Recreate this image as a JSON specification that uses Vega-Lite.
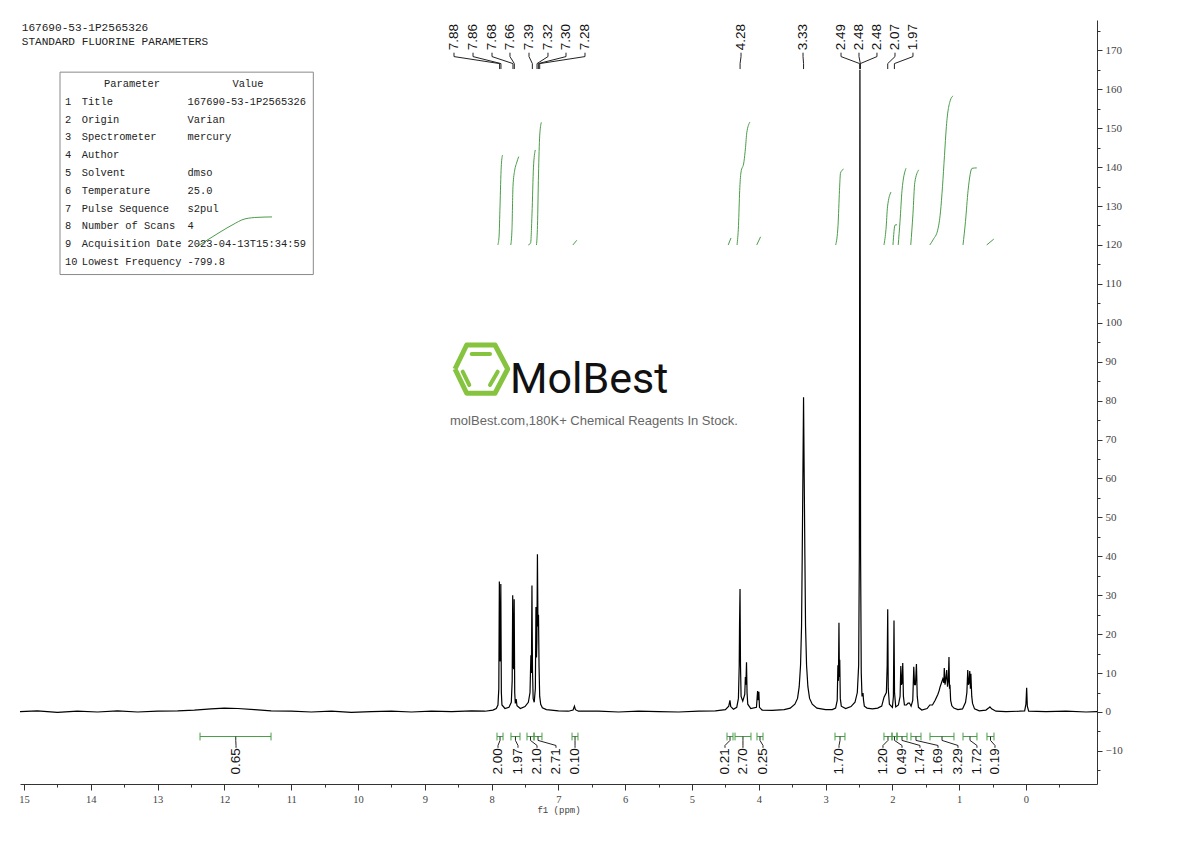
{
  "$schema": "https://vega.github.io/schema/vega-lite/v6.json",
  "width": 1077,
  "height": 764,
  "autosize": {"type": "none"},
  "padding": {"left": 20, "top": 20, "right": 93, "bottom": 57},
  "background": "white",
  "config": {"view": {"stroke": null}},
  "datasets": {
    "spectrum": [
      {"ppm": 15.06, "intensity": 0.1}, {"ppm": 14.8, "intensity": 0.3}, {"ppm": 14.5, "intensity": -0.1}, {"ppm": 14.2, "intensity": 0.2},
      {"ppm": 13.9, "intensity": 0.0}, {"ppm": 13.6, "intensity": 0.3}, {"ppm": 13.3, "intensity": 0.0}, {"ppm": 13.0, "intensity": 0.2},
      {"ppm": 12.7, "intensity": 0.3}, {"ppm": 12.45, "intensity": 0.5}, {"ppm": 12.2, "intensity": 0.8}, {"ppm": 12.0, "intensity": 1.0},
      {"ppm": 11.8, "intensity": 0.9}, {"ppm": 11.55, "intensity": 0.6}, {"ppm": 11.3, "intensity": 0.3}, {"ppm": 11.0, "intensity": 0.2},
      {"ppm": 10.7, "intensity": 0.0}, {"ppm": 10.4, "intensity": 0.2}, {"ppm": 10.1, "intensity": -0.1}, {"ppm": 9.8, "intensity": 0.1},
      {"ppm": 9.5, "intensity": 0.2}, {"ppm": 9.2, "intensity": 0.0}, {"ppm": 8.9, "intensity": 0.2}, {"ppm": 8.6, "intensity": 0.1},
      {"ppm": 8.3, "intensity": 0.3}, {"ppm": 8.1, "intensity": 0.2}, {"ppm": 7.98, "intensity": 0.5}, {"ppm": 7.93, "intensity": 0.9},
      {"ppm": 7.905, "intensity": 1.8}, {"ppm": 7.892, "intensity": 6}, {"ppm": 7.884, "intensity": 33.5}, {"ppm": 7.876, "intensity": 14},
      {"ppm": 7.870, "intensity": 13}, {"ppm": 7.862, "intensity": 32.9}, {"ppm": 7.854, "intensity": 5}, {"ppm": 7.845, "intensity": 1.8},
      {"ppm": 7.80, "intensity": 0.9}, {"ppm": 7.74, "intensity": 1.2}, {"ppm": 7.705, "intensity": 2.5}, {"ppm": 7.692, "intensity": 8},
      {"ppm": 7.684, "intensity": 30}, {"ppm": 7.676, "intensity": 12}, {"ppm": 7.670, "intensity": 11}, {"ppm": 7.662, "intensity": 29},
      {"ppm": 7.654, "intensity": 5}, {"ppm": 7.645, "intensity": 2.2}, {"ppm": 7.632, "intensity": 3.3}, {"ppm": 7.62, "intensity": 1.6},
      {"ppm": 7.57, "intensity": 0.9}, {"ppm": 7.50, "intensity": 1.4}, {"ppm": 7.45, "intensity": 2.5}, {"ppm": 7.425, "intensity": 5},
      {"ppm": 7.412, "intensity": 14.6}, {"ppm": 7.404, "intensity": 10}, {"ppm": 7.396, "intensity": 32.5}, {"ppm": 7.388, "intensity": 11},
      {"ppm": 7.378, "intensity": 3.5}, {"ppm": 7.362, "intensity": 2.5}, {"ppm": 7.345, "intensity": 6}, {"ppm": 7.336, "intensity": 27},
      {"ppm": 7.328, "intensity": 14}, {"ppm": 7.322, "intensity": 18}, {"ppm": 7.314, "intensity": 40.5}, {"ppm": 7.306, "intensity": 22},
      {"ppm": 7.298, "intensity": 25}, {"ppm": 7.290, "intensity": 12}, {"ppm": 7.28, "intensity": 4}, {"ppm": 7.265, "intensity": 2},
      {"ppm": 7.24, "intensity": 1.1}, {"ppm": 7.18, "intensity": 0.6}, {"ppm": 7.0, "intensity": 0.3}, {"ppm": 6.85, "intensity": 0.2},
      {"ppm": 6.78, "intensity": 0.5}, {"ppm": 6.76, "intensity": 1.5}, {"ppm": 6.745, "intensity": 0.6}, {"ppm": 6.7, "intensity": 0.2},
      {"ppm": 6.4, "intensity": 0.2}, {"ppm": 6.1, "intensity": 0.0}, {"ppm": 5.8, "intensity": 0.2}, {"ppm": 5.5, "intensity": 0.1},
      {"ppm": 5.2, "intensity": 0.0}, {"ppm": 4.9, "intensity": 0.2}, {"ppm": 4.65, "intensity": 0.3}, {"ppm": 4.5, "intensity": 0.6},
      {"ppm": 4.45, "intensity": 1.5}, {"ppm": 4.432, "intensity": 3.0}, {"ppm": 4.42, "intensity": 1.4}, {"ppm": 4.38, "intensity": 0.7},
      {"ppm": 4.33, "intensity": 1.2}, {"ppm": 4.305, "intensity": 3.5}, {"ppm": 4.293, "intensity": 12}, {"ppm": 4.288, "intensity": 23},
      {"ppm": 4.281, "intensity": 31.6}, {"ppm": 4.274, "intensity": 12}, {"ppm": 4.265, "intensity": 4}, {"ppm": 4.24, "intensity": 2.8},
      {"ppm": 4.21, "intensity": 4.5}, {"ppm": 4.201, "intensity": 9}, {"ppm": 4.193, "intensity": 7}, {"ppm": 4.184, "intensity": 12.8},
      {"ppm": 4.176, "intensity": 5}, {"ppm": 4.165, "intensity": 2}, {"ppm": 4.12, "intensity": 0.9}, {"ppm": 4.035, "intensity": 1.2},
      {"ppm": 4.018, "intensity": 5.4}, {"ppm": 4.008, "intensity": 3.0}, {"ppm": 3.999, "intensity": 5.2}, {"ppm": 3.99, "intensity": 1.2},
      {"ppm": 3.95, "intensity": 0.5}, {"ppm": 3.80, "intensity": 0.4}, {"ppm": 3.62, "intensity": 0.6}, {"ppm": 3.53, "intensity": 1.0},
      {"ppm": 3.46, "intensity": 2.0}, {"ppm": 3.42, "intensity": 3.5}, {"ppm": 3.395, "intensity": 6.5}, {"ppm": 3.375, "intensity": 12},
      {"ppm": 3.36, "intensity": 22}, {"ppm": 3.35, "intensity": 40}, {"ppm": 3.34, "intensity": 60}, {"ppm": 3.33, "intensity": 80.9},
      {"ppm": 3.32, "intensity": 60}, {"ppm": 3.31, "intensity": 40}, {"ppm": 3.30, "intensity": 22}, {"ppm": 3.285, "intensity": 12},
      {"ppm": 3.265, "intensity": 6.5}, {"ppm": 3.24, "intensity": 3.5}, {"ppm": 3.20, "intensity": 2.0}, {"ppm": 3.13, "intensity": 1.0},
      {"ppm": 3.0, "intensity": 0.6}, {"ppm": 2.9, "intensity": 0.6}, {"ppm": 2.85, "intensity": 1.0}, {"ppm": 2.826, "intensity": 3},
      {"ppm": 2.816, "intensity": 12}, {"ppm": 2.808, "intensity": 8}, {"ppm": 2.800, "intensity": 22.9}, {"ppm": 2.793, "intensity": 9},
      {"ppm": 2.788, "intensity": 13.4}, {"ppm": 2.780, "intensity": 3.5}, {"ppm": 2.765, "intensity": 1.5}, {"ppm": 2.70, "intensity": 0.9},
      {"ppm": 2.62, "intensity": 1.4}, {"ppm": 2.56, "intensity": 2.5}, {"ppm": 2.525, "intensity": 5}, {"ppm": 2.505, "intensity": 12},
      {"ppm": 2.495, "intensity": 40}, {"ppm": 2.486, "intensity": 165}, {"ppm": 2.476, "intensity": 40}, {"ppm": 2.466, "intensity": 10},
      {"ppm": 2.455, "intensity": 4}, {"ppm": 2.44, "intensity": 4.9}, {"ppm": 2.432, "intensity": 3}, {"ppm": 2.42, "intensity": 1.5},
      {"ppm": 2.38, "intensity": 1.0}, {"ppm": 2.30, "intensity": 0.8}, {"ppm": 2.22, "intensity": 1.0}, {"ppm": 2.16, "intensity": 1.5},
      {"ppm": 2.125, "intensity": 3.8}, {"ppm": 2.09, "intensity": 5}, {"ppm": 2.078, "intensity": 12}, {"ppm": 2.070, "intensity": 26.4},
      {"ppm": 2.062, "intensity": 6}, {"ppm": 2.045, "intensity": 2}, {"ppm": 2.0, "intensity": 1.2}, {"ppm": 1.985, "intensity": 4},
      {"ppm": 1.976, "intensity": 23.5}, {"ppm": 1.968, "intensity": 5}, {"ppm": 1.95, "intensity": 1.3}, {"ppm": 1.91, "intensity": 1.8},
      {"ppm": 1.885, "intensity": 4}, {"ppm": 1.874, "intensity": 11.8}, {"ppm": 1.865, "intensity": 7}, {"ppm": 1.855, "intensity": 7.5},
      {"ppm": 1.845, "intensity": 12.6}, {"ppm": 1.835, "intensity": 4}, {"ppm": 1.82, "intensity": 1.8}, {"ppm": 1.79, "intensity": 1.8},
      {"ppm": 1.765, "intensity": 2.3}, {"ppm": 1.745, "intensity": 2.3}, {"ppm": 1.72, "intensity": 1.5}, {"ppm": 1.695, "intensity": 3},
      {"ppm": 1.680, "intensity": 11.6}, {"ppm": 1.668, "intensity": 7}, {"ppm": 1.655, "intensity": 7}, {"ppm": 1.640, "intensity": 12.3},
      {"ppm": 1.628, "intensity": 4}, {"ppm": 1.61, "intensity": 1.2}, {"ppm": 1.56, "intensity": 0.5}, {"ppm": 1.48, "intensity": 0.9},
      {"ppm": 1.44, "intensity": 1.8}, {"ppm": 1.40, "intensity": 1.8}, {"ppm": 1.36, "intensity": 3}, {"ppm": 1.32, "intensity": 4.5},
      {"ppm": 1.30, "intensity": 5.5}, {"ppm": 1.287, "intensity": 6.4}, {"ppm": 1.265, "intensity": 7.5}, {"ppm": 1.245, "intensity": 8.5},
      {"ppm": 1.23, "intensity": 7.5}, {"ppm": 1.223, "intensity": 11.3}, {"ppm": 1.212, "intensity": 7}, {"ppm": 1.200, "intensity": 8.5},
      {"ppm": 1.187, "intensity": 10.8}, {"ppm": 1.175, "intensity": 6.5}, {"ppm": 1.163, "intensity": 8}, {"ppm": 1.153, "intensity": 14.1},
      {"ppm": 1.145, "intensity": 6}, {"ppm": 1.138, "intensity": 7}, {"ppm": 1.128, "intensity": 3}, {"ppm": 1.11, "intensity": 1.6},
      {"ppm": 1.08, "intensity": 1.0}, {"ppm": 1.02, "intensity": 0.6}, {"ppm": 0.95, "intensity": 0.8}, {"ppm": 0.905, "intensity": 2.5},
      {"ppm": 0.885, "intensity": 5}, {"ppm": 0.872, "intensity": 10.8}, {"ppm": 0.862, "intensity": 7}, {"ppm": 0.852, "intensity": 7.5},
      {"ppm": 0.842, "intensity": 10.5}, {"ppm": 0.832, "intensity": 6}, {"ppm": 0.825, "intensity": 9.8}, {"ppm": 0.812, "intensity": 4},
      {"ppm": 0.80, "intensity": 2.2}, {"ppm": 0.77, "intensity": 0.8}, {"ppm": 0.70, "intensity": 0.3}, {"ppm": 0.6, "intensity": 0.5},
      {"ppm": 0.56, "intensity": 1.0}, {"ppm": 0.54, "intensity": 1.3}, {"ppm": 0.515, "intensity": 0.8}, {"ppm": 0.45, "intensity": 0.2},
      {"ppm": 0.3, "intensity": 0.1}, {"ppm": 0.1, "intensity": 0.2}, {"ppm": 0.02, "intensity": 0.3}, {"ppm": 0.001, "intensity": 2},
      {"ppm": -0.01, "intensity": 6.2}, {"ppm": -0.02, "intensity": 1.5}, {"ppm": -0.04, "intensity": 0.2}, {"ppm": -0.3, "intensity": 0.1},
      {"ppm": -0.6, "intensity": 0.2}, {"ppm": -0.9, "intensity": 0.0}, {"ppm": -1.063, "intensity": 0.1}
    ],
    "integrals": [
      {"id": "i0", "ppm": 12.395, "value": 119.8}, {"id": "i0", "ppm": 12.29, "value": 120.9}, {"id": "i0", "ppm": 12.066, "value": 123.3}, {"id": "i0", "ppm": 11.886, "value": 125.1}, {"id": "i0", "ppm": 11.692, "value": 126.7}, {"id": "i0", "ppm": 11.497, "value": 127.1}, {"id": "i0", "ppm": 11.287, "value": 127.2},
      {"id": "i1", "ppm": 7.907, "value": 120}, {"id": "i1", "ppm": 7.889, "value": 122}, {"id": "i1", "ppm": 7.874, "value": 130}, {"id": "i1", "ppm": 7.856, "value": 140}, {"id": "i1", "ppm": 7.837, "value": 143.1},
      {"id": "i2", "ppm": 7.713, "value": 120}, {"id": "i2", "ppm": 7.695, "value": 124}, {"id": "i2", "ppm": 7.68, "value": 135}, {"id": "i2", "ppm": 7.653, "value": 139.3}, {"id": "i2", "ppm": 7.627, "value": 141}, {"id": "i2", "ppm": 7.594, "value": 142.7},
      {"id": "i3", "ppm": 7.452, "value": 120}, {"id": "i3", "ppm": 7.416, "value": 120.5}, {"id": "i3", "ppm": 7.395, "value": 128}, {"id": "i3", "ppm": 7.373, "value": 140}, {"id": "i3", "ppm": 7.346, "value": 144.4},
      {"id": "i4", "ppm": 7.328, "value": 120}, {"id": "i4", "ppm": 7.313, "value": 125}, {"id": "i4", "ppm": 7.298, "value": 138}, {"id": "i4", "ppm": 7.28, "value": 148}, {"id": "i4", "ppm": 7.256, "value": 151.5},
      {"id": "i5", "ppm": 6.783, "value": 120}, {"id": "i5", "ppm": 6.725, "value": 121.2},
      {"id": "i6", "ppm": 4.458, "value": 120}, {"id": "i6", "ppm": 4.416, "value": 121.8},
      {"id": "i7", "ppm": 4.326, "value": 120}, {"id": "i7", "ppm": 4.304, "value": 125}, {"id": "i7", "ppm": 4.286, "value": 134}, {"id": "i7", "ppm": 4.268, "value": 138.5}, {"id": "i7", "ppm": 4.222, "value": 141.4}, {"id": "i7", "ppm": 4.199, "value": 145}, {"id": "i7", "ppm": 4.18, "value": 148.8}, {"id": "i7", "ppm": 4.132, "value": 151.6},
      {"id": "i8", "ppm": 4.031, "value": 120}, {"id": "i8", "ppm": 3.973, "value": 122.1},
      {"id": "i9", "ppm": 2.849, "value": 120}, {"id": "i9", "ppm": 2.814, "value": 125}, {"id": "i9", "ppm": 2.792, "value": 134}, {"id": "i9", "ppm": 2.777, "value": 138.5}, {"id": "i9", "ppm": 2.731, "value": 139.5},
      {"id": "i10", "ppm": 2.126, "value": 120}, {"id": "i10", "ppm": 2.096, "value": 124}, {"id": "i10", "ppm": 2.073, "value": 129.8}, {"id": "i10", "ppm": 2.021, "value": 133.6},
      {"id": "i11", "ppm": 1.991, "value": 120}, {"id": "i11", "ppm": 1.961, "value": 125.1}, {"id": "i11", "ppm": 1.931, "value": 125.2},
      {"id": "i12", "ppm": 1.913, "value": 120}, {"id": "i12", "ppm": 1.886, "value": 126}, {"id": "i12", "ppm": 1.856, "value": 134}, {"id": "i12", "ppm": 1.796, "value": 139.7},
      {"id": "i13", "ppm": 1.725, "value": 120}, {"id": "i13", "ppm": 1.692, "value": 128}, {"id": "i13", "ppm": 1.665, "value": 136}, {"id": "i13", "ppm": 1.606, "value": 139.3},
      {"id": "i14", "ppm": 1.44, "value": 120}, {"id": "i14", "ppm": 1.385, "value": 121.5}, {"id": "i14", "ppm": 1.322, "value": 123.8}, {"id": "i14", "ppm": 1.28, "value": 128.5}, {"id": "i14", "ppm": 1.25, "value": 135}, {"id": "i14", "ppm": 1.22, "value": 143}, {"id": "i14", "ppm": 1.192, "value": 150.4}, {"id": "i14", "ppm": 1.132, "value": 157.2}, {"id": "i14", "ppm": 1.091, "value": 158.3},
      {"id": "i15", "ppm": 0.943, "value": 120}, {"id": "i15", "ppm": 0.906, "value": 126}, {"id": "i15", "ppm": 0.867, "value": 134}, {"id": "i15", "ppm": 0.807, "value": 139.7}, {"id": "i15", "ppm": 0.737, "value": 139.8},
      {"id": "i16", "ppm": 0.588, "value": 120}, {"id": "i16", "ppm": 0.539, "value": 120.7}, {"id": "i16", "ppm": 0.482, "value": 121.5}
    ],
    "peaks": [
      {"label": "7.88", "labelPos": 8.563, "peak": 7.88}, {"label": "7.86", "labelPos": 8.278, "peak": 7.86},
      {"label": "7.68", "labelPos": 7.994, "peak": 7.68}, {"label": "7.66", "labelPos": 7.725, "peak": 7.66},
      {"label": "7.39", "labelPos": 7.44, "peak": 7.39}, {"label": "7.32", "labelPos": 7.156, "peak": 7.32},
      {"label": "7.30", "labelPos": 6.886, "peak": 7.30}, {"label": "7.28", "labelPos": 6.602, "peak": 7.28},
      {"label": "4.28", "labelPos": 4.266, "peak": 4.28}, {"label": "3.33", "labelPos": 3.338, "peak": 3.33},
      {"label": "2.49", "labelPos": 2.769, "peak": 2.49}, {"label": "2.48", "labelPos": 2.5, "peak": 2.48},
      {"label": "2.48", "labelPos": 2.231, "peak": 2.48}, {"label": "2.07", "labelPos": 1.961, "peak": 2.07},
      {"label": "1.97", "labelPos": 1.692, "peak": 1.97}
    ],
    "bars": [
      {"label": "0.65", "from": 12.365, "to": 11.302, "center": 11.83, "labelPos": 11.826},
      {"label": "2.00", "from": 7.919, "to": 7.829, "center": 7.874, "labelPos": 7.904},
      {"label": "1.97", "from": 7.71, "to": 7.575, "center": 7.643, "labelPos": 7.605},
      {"label": "2.10", "from": 7.47, "to": 7.365, "center": 7.418, "labelPos": 7.32},
      {"label": "2.71", "from": 7.365, "to": 7.246, "center": 7.305, "labelPos": 7.036},
      {"label": "0.10", "from": 6.796, "to": 6.707, "center": 6.751, "labelPos": 6.751},
      {"label": "0.21", "from": 4.476, "to": 4.386, "center": 4.431, "labelPos": 4.506},
      {"label": "2.70", "from": 4.356, "to": 4.117, "center": 4.237, "labelPos": 4.237},
      {"label": "0.25", "from": 4.027, "to": 3.937, "center": 3.982, "labelPos": 3.937},
      {"label": "1.70", "from": 2.859, "to": 2.71, "center": 2.784, "labelPos": 2.799},
      {"label": "1.20", "from": 2.126, "to": 2.006, "center": 2.066, "labelPos": 2.141},
      {"label": "0.49", "from": 2.006, "to": 1.931, "center": 1.969, "labelPos": 1.856},
      {"label": "1.74", "from": 1.931, "to": 1.781, "center": 1.856, "labelPos": 1.587},
      {"label": "1.69", "from": 1.722, "to": 1.572, "center": 1.647, "labelPos": 1.317},
      {"label": "3.29", "from": 1.437, "to": 1.078, "center": 1.257, "labelPos": 1.018},
      {"label": "1.72", "from": 0.943, "to": 0.734, "center": 0.838, "labelPos": 0.734},
      {"label": "0.19", "from": 0.584, "to": 0.479, "center": 0.531, "labelPos": 0.464}
    ],
    "table": [
      {"row": 1, "param": "Title", "val": "167690-53-1P2565326"},
      {"row": 2, "param": "Origin", "val": "Varian"},
      {"row": 3, "param": "Spectrometer", "val": "mercury"},
      {"row": 4, "param": "Author", "val": ""},
      {"row": 5, "param": "Solvent", "val": "dmso"},
      {"row": 6, "param": "Temperature", "val": "25.0"},
      {"row": 7, "param": "Pulse Sequence", "val": "s2pul"},
      {"row": 8, "param": "Number of Scans", "val": "4"},
      {"row": 9, "param": "Acquisition Date", "val": "2023-04-13T15:34:59"},
      {"row": 10, "param": "Lowest Frequency", "val": "-799.8"}
    ],
    "tableHeader": [{"row": 0, "param": "Parameter", "val": "Value"}],
    "logo": [
      {"k": 0, "ppm": 8.548, "value": 88.13}, {"k": 1, "ppm": 8.373, "value": 94.3}, {"k": 2, "ppm": 7.949, "value": 94.3},
      {"k": 3, "ppm": 7.759, "value": 88.13}, {"k": 4, "ppm": 7.949, "value": 81.89}, {"k": 5, "ppm": 8.373, "value": 81.89},
      {"k": 6, "ppm": 8.548, "value": 88.13}
    ],
    "logoBars": [
      {"bar": "a", "ppm": 8.298, "value": 91.98}, {"bar": "a", "ppm": 8.024, "value": 91.98},
      {"bar": "b", "ppm": 8.433, "value": 87.44}, {"bar": "b", "ppm": 8.334, "value": 84.02},
      {"bar": "c", "ppm": 8.024, "value": 84.02}, {"bar": "c", "ppm": 7.909, "value": 87.44}
    ],
    "one": [{}]
  },
  "layer": [
    {
      "resolve": {"axis": {"x": "independent", "y": "independent"}},
      "layer": [
        {
          "data": {"name": "one"},
          "mark": {"type": "rect", "fill": "white", "stroke": "#8a8a8a", "strokeWidth": 1},
          "encoding": {
            "x": {"datum": 14.461, "type": "quantitative", "axis": null},
            "x2": {"datum": 10.669},
            "y": {"datum": 164.4, "type": "quantitative", "axis": null},
            "y2": {"datum": 112.4}
          }
        },
        {
          "data": {"name": "one"},
          "mark": {"type": "text", "text": "167690-53-1P2565326", "align": "left", "baseline": "middle", "font": "Liberation Mono", "fontSize": 11.1, "color": "#222"},
          "encoding": {
            "x": {"datum": 15.034, "type": "quantitative", "axis": null},
            "y": {"datum": 175.8, "type": "quantitative", "axis": null}
          }
        },
        {
          "data": {"name": "one"},
          "mark": {"type": "text", "text": "STANDARD FLUORINE PARAMETERS", "align": "left", "baseline": "middle", "font": "Liberation Mono", "fontSize": 11.1, "color": "#222"},
          "encoding": {
            "x": {"datum": 15.034, "type": "quantitative", "axis": null},
            "y": {"datum": 172.1, "type": "quantitative", "axis": null}
          }
        },
        {
          "data": {"name": "logo"},
          "mark": {"type": "line", "color": "#86c440", "strokeWidth": 5, "strokeJoin": "round"},
          "encoding": {
            "x": {"field": "ppm", "type": "quantitative", "axis": null},
            "y": {"field": "value", "type": "quantitative", "axis": null},
            "order": {"field": "k"}
          }
        },
        {
          "data": {"name": "logoBars"},
          "mark": {"type": "line", "color": "#86c440", "strokeWidth": 4, "strokeCap": "round"},
          "encoding": {
            "x": {"field": "ppm", "type": "quantitative", "axis": null},
            "y": {"field": "value", "type": "quantitative", "axis": null},
            "detail": {"field": "bar"}
          }
        },
        {
          "data": {"name": "one"},
          "mark": {"type": "text", "text": "MolBest", "align": "left", "baseline": "alphabetic", "font": "Roboto", "fontSize": 43, "color": "#111"},
          "encoding": {
            "x": {"datum": 7.725, "type": "quantitative", "axis": null},
            "y": {"datum": 81.9, "type": "quantitative", "axis": null}
          }
        },
        {
          "data": {"name": "one"},
          "mark": {"type": "text", "text": "molBest.com,180K+ Chemical Reagents In Stock.", "align": "center", "baseline": "middle", "font": "Liberation Sans", "fontSize": 13, "color": "#666"},
          "encoding": {
            "x": {"datum": 6.467, "type": "quantitative", "axis": null},
            "y": {"datum": 74.8, "type": "quantitative", "axis": null}
          }
        },
        {
          "data": {"name": "spectrum"},
          "mark": {"type": "line", "color": "#000", "strokeWidth": 1.2},
          "encoding": {
            "x": {
              "field": "ppm", "type": "quantitative",
              "scale": {"domain": [-1.063, 15.06], "reverse": true, "nice": false, "zero": false},
              "axis": {
                "orient": "bottom",
                "values": [0, 1, 2, 3, 4, 5, 6, 7, 8, 9, 10, 11, 12, 13, 14, 15],
                "tickSize": 6,
                "grid": false,
                "domainColor": "#333", "tickColor": "#333", "domainWidth": 1, "tickWidth": 1,
                "labelFont": "Liberation Serif", "labelFontSize": 10.5, "labelColor": "#444", "labelPadding": 4,
                "labelFlush": false, "labelOverlap": false,
                "title": "f1 (ppm)", "titleFont": "Liberation Mono", "titleFontSize": 9, "titleFontWeight": "normal", "titleColor": "#444", "titlePadding": 1
              }
            },
            "y": {
              "field": "intensity", "type": "quantitative",
              "scale": {"domain": [-18.5, 177.8], "nice": false, "zero": false},
              "axis": {
                "orient": "right",
                "values": [-10, 0, 10, 20, 30, 40, 50, 60, 70, 80, 90, 100, 110, 120, 130, 140, 150, 160, 170],
                "tickSize": 5,
                "grid": false, "title": null,
                "domainColor": "#333", "tickColor": "#333", "domainWidth": 1, "tickWidth": 1,
                "labelFont": "Liberation Serif", "labelFontSize": 11, "labelColor": "#444", "labelPadding": 3,
                "labelOverlap": false, "labelFlush": false
              }
            }
          }
        },
        {
          "data": {"name": "integrals"},
          "mark": {"type": "line", "color": "#4a9d4a", "strokeWidth": 1, "interpolate": "monotone"},
          "encoding": {
            "x": {
              "field": "ppm", "type": "quantitative",
              "axis": {
                "orient": "bottom",
                "values": [-0.5, 0.5, 1.5, 2.5, 3.5, 4.5, 5.5, 6.5, 7.5, 8.5, 9.5, 10.5, 11.5, 12.5, 13.5, 14.5],
                "tickSize": 3, "tickColor": "#333", "tickWidth": 1,
                "labels": false, "domain": false, "grid": false, "title": null
              }
            },
            "y": {
              "field": "value", "type": "quantitative",
              "axis": {
                "orient": "right",
                "values": [-15, -5, 5, 15, 25, 35, 45, 55, 65, 75, 85, 95, 105, 115, 125, 135, 145, 155, 165, 175],
                "tickSize": 3, "tickColor": "#333", "tickWidth": 1,
                "labels": false, "domain": false, "grid": false, "title": null
              }
            },
            "detail": {"field": "id"}
          }
        },
        {
          "data": {"name": "bars"},
          "mark": {"type": "rule", "color": "#4a9d4a", "strokeWidth": 1},
          "encoding": {
            "x": {"field": "from", "type": "quantitative", "axis": null},
            "x2": {"field": "to"},
            "y": {"datum": -6.3, "type": "quantitative", "axis": null}
          }
        },
        {
          "data": {"name": "bars"},
          "mark": {"type": "rule", "color": "#4a9d4a", "strokeWidth": 1},
          "encoding": {
            "x": {"field": "from", "type": "quantitative", "axis": null},
            "y": {"datum": -5.3, "type": "quantitative", "axis": null},
            "y2": {"datum": -7.3}
          }
        },
        {
          "data": {"name": "bars"},
          "mark": {"type": "rule", "color": "#4a9d4a", "strokeWidth": 1},
          "encoding": {
            "x": {"field": "to", "type": "quantitative", "axis": null},
            "y": {"datum": -5.3, "type": "quantitative", "axis": null},
            "y2": {"datum": -7.3}
          }
        },
        {
          "data": {"name": "bars"},
          "mark": {"type": "rule", "color": "#222", "strokeWidth": 1},
          "encoding": {
            "x": {"field": "center", "type": "quantitative", "axis": null},
            "y": {"datum": -6.3, "type": "quantitative", "axis": null},
            "y2": {"datum": -7.3}
          }
        },
        {
          "data": {"name": "bars"},
          "mark": {"type": "rule", "color": "#222", "strokeWidth": 1},
          "encoding": {
            "x": {"field": "center", "type": "quantitative", "axis": null},
            "x2": {"field": "labelPos"},
            "y": {"datum": -7.3, "type": "quantitative", "axis": null},
            "y2": {"datum": -8.6}
          }
        },
        {
          "data": {"name": "bars"},
          "mark": {"type": "rule", "color": "#222", "strokeWidth": 1},
          "encoding": {
            "x": {"field": "labelPos", "type": "quantitative", "axis": null},
            "y": {"datum": -8.6, "type": "quantitative", "axis": null},
            "y2": {"datum": -9.2}
          }
        },
        {
          "data": {"name": "bars"},
          "mark": {"type": "text", "angle": 270, "align": "right", "baseline": "middle", "font": "Liberation Sans", "fontSize": 13.5, "color": "#111"},
          "encoding": {
            "x": {"field": "labelPos", "type": "quantitative", "axis": null},
            "y": {"datum": -9.3, "type": "quantitative", "axis": null},
            "text": {"field": "label"}
          }
        },
        {
          "data": {"name": "peaks"},
          "mark": {"type": "rule", "color": "#222", "strokeWidth": 1},
          "encoding": {
            "x": {"field": "labelPos", "type": "quantitative", "axis": null},
            "y": {"datum": 169.4, "type": "quantitative", "axis": null},
            "y2": {"datum": 168.4}
          }
        },
        {
          "data": {"name": "peaks"},
          "mark": {"type": "rule", "color": "#222", "strokeWidth": 1},
          "encoding": {
            "x": {"field": "labelPos", "type": "quantitative", "axis": null},
            "x2": {"field": "peak"},
            "y": {"datum": 168.4, "type": "quantitative", "axis": null},
            "y2": {"datum": 166.6}
          }
        },
        {
          "data": {"name": "peaks"},
          "mark": {"type": "rule", "color": "#222", "strokeWidth": 1},
          "encoding": {
            "x": {"field": "peak", "type": "quantitative", "axis": null},
            "y": {"datum": 166.6, "type": "quantitative", "axis": null},
            "y2": {"datum": 165.2}
          }
        },
        {
          "data": {"name": "peaks"},
          "mark": {"type": "text", "angle": 270, "align": "left", "baseline": "middle", "font": "Liberation Sans", "fontSize": 13.5, "color": "#111"},
          "encoding": {
            "x": {"field": "labelPos", "type": "quantitative", "axis": null},
            "y": {"datum": 170.0, "type": "quantitative", "axis": null},
            "text": {"field": "label"}
          }
        }
      ]
    },
    {
      "layer": [
        {
          "data": {"name": "table"},
          "mark": {"type": "text", "align": "left", "baseline": "middle", "font": "Liberation Mono", "fontSize": 10.4, "color": "#222"},
          "encoding": {
            "x": {"datum": 14.386, "type": "quantitative", "axis": null},
            "y": {"field": "row", "type": "quantitative", "scale": {"domain": [-3.59, 39.33], "reverse": true, "nice": false, "zero": false}, "axis": null},
            "text": {"field": "row", "type": "nominal"}
          }
        },
        {
          "data": {"name": "table"},
          "mark": {"type": "text", "align": "left", "baseline": "middle", "font": "Liberation Mono", "fontSize": 10.4, "color": "#222"},
          "encoding": {
            "x": {"datum": 14.136, "type": "quantitative", "axis": null},
            "y": {"field": "row", "type": "quantitative", "scale": {"domain": [-3.59, 39.33], "reverse": true, "nice": false, "zero": false}, "axis": null},
            "text": {"field": "param", "type": "nominal"}
          }
        },
        {
          "data": {"name": "table"},
          "mark": {"type": "text", "align": "left", "baseline": "middle", "font": "Liberation Mono", "fontSize": 10.4, "color": "#222"},
          "encoding": {
            "x": {"datum": 12.553, "type": "quantitative", "axis": null},
            "y": {"field": "row", "type": "quantitative", "scale": {"domain": [-3.59, 39.33], "reverse": true, "nice": false, "zero": false}, "axis": null},
            "text": {"field": "val", "type": "nominal"}
          }
        },
        {
          "data": {"name": "tableHeader"},
          "mark": {"type": "text", "align": "center", "baseline": "middle", "font": "Liberation Mono", "fontSize": 10.4, "color": "#222"},
          "encoding": {
            "x": {"datum": 13.383, "type": "quantitative", "axis": null},
            "y": {"field": "row", "type": "quantitative", "scale": {"domain": [-3.59, 39.33], "reverse": true, "nice": false, "zero": false}, "axis": null},
            "text": {"field": "param", "type": "nominal"}
          }
        },
        {
          "data": {"name": "tableHeader"},
          "mark": {"type": "text", "align": "center", "baseline": "middle", "font": "Liberation Mono", "fontSize": 10.4, "color": "#222"},
          "encoding": {
            "x": {"datum": 11.647, "type": "quantitative", "axis": null},
            "y": {"field": "row", "type": "quantitative", "scale": {"domain": [-3.59, 39.33], "reverse": true, "nice": false, "zero": false}, "axis": null},
            "text": {"field": "val", "type": "nominal"}
          }
        }
      ]
    }
  ],
  "resolve": {"scale": {"y": "independent"}}
}
